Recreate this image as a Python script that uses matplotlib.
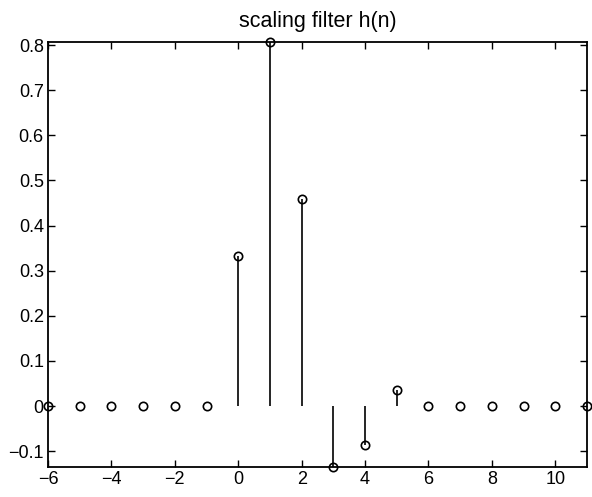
import matplotlib
matplotlib.use("Agg")
import matplotlib.pyplot as plt
import numpy as np

n = list(range(-6, 12))
h = [0, 0, 0, 0, 0, 0,
     0.3327, 0.8069, 0.4599, -0.1350, -0.0854, 0.0352,
     0, 0, 0, 0, 0, 0]
xticks = [-6, -4, -2, 0, 2, 4, 6, 8, 10]
yticks = [-0.1, 0, 0.1, 0.2, 0.3, 0.4, 0.5, 0.6, 0.7, 0.8]
ylabels = ["-0.1", "0", "0.1", "0.2", "0.3", "0.4", "0.5", "0.6", "0.7", "0.8"]

plt.rcParams['font.family'] = ['Liberation Sans', 'DejaVu Sans']
fig = plt.figure(figsize=(5.92, 4.97), dpi=100)
ax = fig.add_axes([0.081, 0.0604, 0.9106, 0.8551])

ax.vlines(n, 0, h, colors='black', linewidth=1.2)
ax.plot(n, h, 'o', markerfacecolor='none', markeredgecolor='black',
        markersize=6, markeredgewidth=1.2, clip_on=False, zorder=3)

ax.set_xlim(-6, 11)
ax.set_ylim(min(h), max(h))
ax.set_xticks(xticks)
ax.set_xticklabels([str(t).replace('-', '\u2212') for t in xticks])
ax.set_yticks(yticks)
ax.set_yticklabels([s.replace('-', '\u2212') for s in ylabels])
ax.tick_params(direction='in', top=True, right=True, labelsize=13, length=5, width=1, pad=3)
for s in ax.spines.values():
    s.set_linewidth(1.3)
ax.set_title('scaling filter h(n)', fontsize=15.5, pad=11)

fig.savefig('out.png', dpi=100)
